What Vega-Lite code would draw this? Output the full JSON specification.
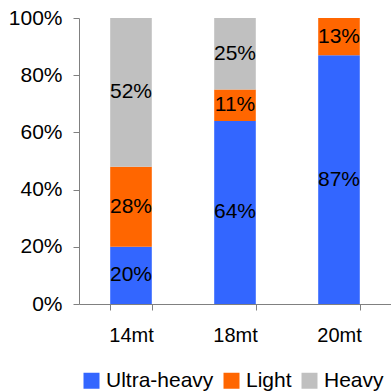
{
  "$schema": "https://vega.github.io/schema/vega-lite/v6.json",
  "autosize": {"type": "none"},
  "padding": {"left": 79, "top": 18, "right": 0, "bottom": 87},
  "width": 312,
  "height": 286,
  "background": "white",
  "config": {
    "font": "Liberation Sans",
    "view": {"stroke": null}
  },
  "data": {
    "values": [
      {"size": "14mt", "segment": "Ultra-heavy", "rank": 1, "share": 0.20},
      {"size": "14mt", "segment": "Light", "rank": 2, "share": 0.28},
      {"size": "14mt", "segment": "Heavy", "rank": 3, "share": 0.52},
      {"size": "18mt", "segment": "Ultra-heavy", "rank": 1, "share": 0.64},
      {"size": "18mt", "segment": "Light", "rank": 2, "share": 0.11},
      {"size": "18mt", "segment": "Heavy", "rank": 3, "share": 0.25},
      {"size": "20mt", "segment": "Ultra-heavy", "rank": 1, "share": 0.87},
      {"size": "20mt", "segment": "Light", "rank": 2, "share": 0.13}
    ]
  },
  "transform": [
    {"stack": "share", "groupby": ["size"], "sort": [{"field": "rank", "order": "ascending"}], "as": ["lo", "hi"]},
    {"calculate": "(datum.lo + datum.hi) / 2", "as": "mid"}
  ],
  "encoding": {
    "x": {
      "field": "size",
      "type": "nominal",
      "scale": {"paddingInner": 0.6, "paddingOuter": 0.3},
      "axis": {
        "title": null,
        "labelAngle": 0,
        "labelFontSize": 20,
        "labelColor": "black",
        "labelPadding": 15,
        "tickBand": "extent",
        "tickSize": 6,
        "tickColor": "#808080",
        "domainColor": "#808080",
        "grid": false
      }
    }
  },
  "layer": [
    {
      "mark": {"type": "bar"},
      "encoding": {
        "y": {
          "field": "lo",
          "type": "quantitative",
          "scale": {"domain": [0, 1]},
          "axis": {
            "title": null,
            "values": [0, 0.2, 0.4, 0.6, 0.8, 1],
            "format": ".0%",
            "labelFontSize": 21,
            "labelColor": "black",
            "labelPadding": 11,
            "tickSize": 6,
            "tickColor": "#808080",
            "domainColor": "#808080",
            "grid": false
          }
        },
        "y2": {"field": "hi"},
        "color": {
          "field": "segment",
          "type": "nominal",
          "scale": {
            "domain": ["Ultra-heavy", "Light", "Heavy"],
            "range": ["#3366FF", "#FF6600", "#C0C0C0"]
          },
          "legend": {
            "title": null,
            "orient": "none",
            "direction": "horizontal",
            "legendX": 2,
            "legendY": 352,
            "symbolType": "square",
            "symbolSize": 256,
            "symbolStrokeWidth": 0,
            "labelFontSize": 21,
            "labelColor": "black",
            "labelOffset": 4,
            "columnPadding": 7
          }
        }
      }
    },
    {
      "mark": {"type": "text", "fontSize": 21, "color": "black", "baseline": "middle"},
      "encoding": {
        "y": {"field": "mid", "type": "quantitative"},
        "text": {"field": "share", "type": "quantitative", "format": ".0%"}
      }
    }
  ]
}
